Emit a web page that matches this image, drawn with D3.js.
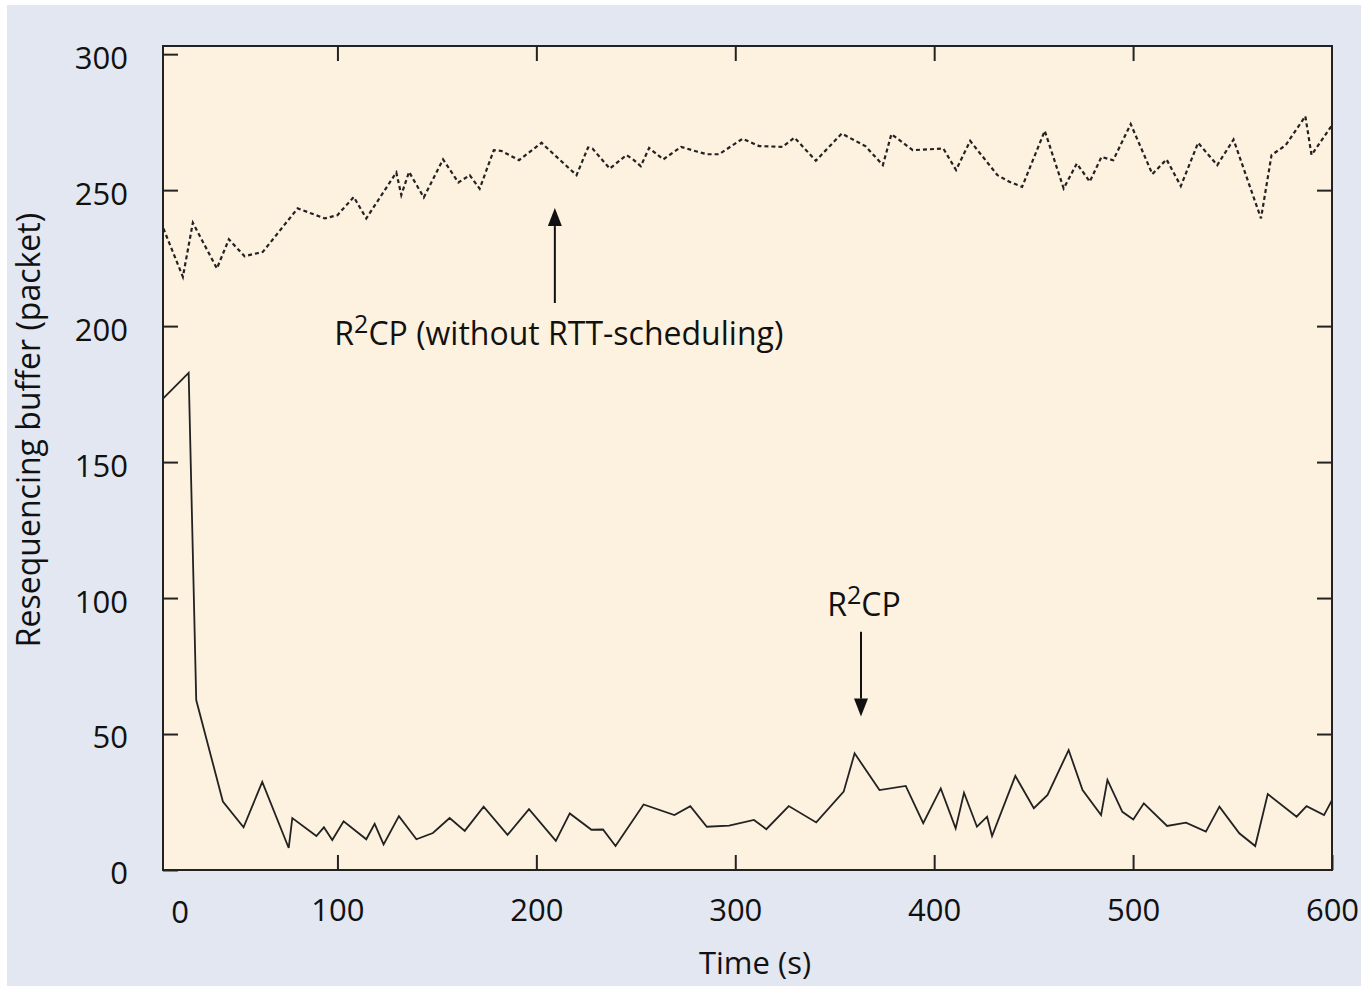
<!DOCTYPE html>
<html>
<head>
<meta charset="utf-8">
<script src="https://cdn.jsdelivr.net/npm/d3@7"></script>
<style>
  body { margin: 0; background: #fff; }
  svg text { font-family: "Open Sans", "Noto Sans", sans-serif; fill: #111; }
</style>
</head>
<body>
<div id="chart"></div>
<script>
// time (s) and buffer size (packets)
var timeDashed = [12.5, 22.3, 27.3, 39.4, 45.4, 53.3, 62.5, 80, 93.6, 100, 108.2, 114.5, 129.6, 132.1, 136,
    143.4, 153.1, 160.8, 166.5, 171.5, 178.6, 182.5, 191.3, 202.6, 209.8, 220.2, 226, 228.2, 236.9, 245.3,
    248.6, 252.5, 256.7, 263.8, 272.8, 281.1, 285.9, 291.8, 303.7, 312, 323.8, 329.8, 340.5, 353.5, 365.4,
    374.2, 378.5, 389.2, 404.6, 411, 418.1, 431.8, 437.8, 444.2, 455.6, 465.1, 471.7, 478.2, 484.1, 490,
    498.8, 509.7, 516.8, 524, 532.7, 542.3, 550.5, 564.3, 569.6, 576.7, 586.6, 589.7, 600];
var bufDashed = [235.9, 218.1, 238, 221.2, 231.9, 225.7, 227.3, 243.3, 239.6, 240.8, 247.5, 239.6, 256.5, 248.2, 256.7,
    247.3, 261.3, 252.8, 255.5, 250.5, 264.7, 264.4, 261, 267.4, 262.5, 255.5, 265.7, 265.3, 257.9, 262.9,
    261.3, 258.8, 265.5, 261.3, 265.9, 264.1, 263.2, 263.2, 268.9, 266.2, 265.9, 269.3, 260.8, 270.8, 266.2,
    259.2, 270.6, 264.7, 265.3, 257.4, 268.1, 255.5, 253.1, 251.2, 271.8, 250.6, 259.8, 253.1, 262.2, 261,
    274.3, 255.9, 261.3, 251.5, 267.4, 259.2, 268.6, 239.6, 262.9, 266.5, 277.2, 262.9, 273.9];

var timeSolid = [12.3, 25.2, 29, 42.4, 52.8, 62.2, 75.5, 77.3, 89.4, 93.2, 97.4, 103.1, 114.5, 118.7, 123.2,
    130.9, 139.7, 148, 156.4, 164, 173.5, 185.5, 196.3, 209.8, 216.8, 227.7, 233.5, 239.8, 253.9, 269.4,
    277.4, 285.7, 296.9, 309.4, 315.6, 326.9, 340.7, 354.5, 360, 372.5, 385.7, 394.5, 403.3, 410.8, 415,
    421.5, 426.6, 429.1, 440.8, 450.1, 457, 467.6, 474.6, 483.9, 487.1, 494.6, 500.1, 505.4, 517.1, 526.6,
    536.6, 543.4, 553.4, 561.4, 567.7, 582.2, 587.2, 596, 600];
var bufSolid = [173.3, 182.8, 62.5, 25.2, 15.7, 32.4, 8.1, 19.1, 12.5, 15.7, 11, 17.9, 11.3, 17, 9.4,
    19.8, 11.3, 13.6, 19.1, 14.4, 23.3, 12.9, 22.4, 10.7, 20.8, 14.8, 14.9, 8.8, 24.1, 20.2,
    23.5, 15.9, 16.3, 18.4, 15, 23.5, 17.5, 28.8, 42.9, 29.4, 30.9, 17.2, 30, 15.3, 28.4,
    15.9, 19.6, 12.5, 34.6, 22.7, 27.6, 44.1, 29.4, 20.2, 33.1, 21.4, 18.6, 24.5, 16.2, 17.4,
    14.1, 23.3, 13.5, 8.8, 27.9, 19.6, 23.5, 20.2, 25.7];

var xTicks = [100, 200, 300, 400, 500, 600];
var yTicks = [0, 50, 100, 150, 200, 250, 300];

// annotation arrows (time, buffer from -> to) and label position
var noteTop = { time: 209.3, from: 208.5, to: 243.4, value: 193 };
var noteBottom = { time: 363.2, from: 87.6, to: 56.4, value: 93.5 };

var width = 1361, height = 986;
var margin = { left: 163, right: 29, top: 46, bottom: 116 };

var svg = d3.select("#chart").append("svg")
    .attr("width", width)
    .attr("height", height);

svg.append("rect")
    .attr("x", 7).attr("y", 5)
    .attr("width", width - 7).attr("height", height - 5)
    .attr("fill", "#e2e7f2");

var x = d3.scaleLinear().domain([12.3, 600]).range([margin.left, width - margin.right]);
var y = d3.scaleLinear().domain([0, 303]).range([height - margin.bottom, margin.top]);

svg.append("rect")
    .attr("x", x.range()[0]).attr("y", y.range()[1])
    .attr("width", x.range()[1] - x.range()[0])
    .attr("height", y.range()[0] - y.range()[1])
    .attr("fill", "#fdf1e0");

var line = d3.line()
    .x(function(d) { return x(d[0]); })
    .y(function(d) { return y(d[1]); });

svg.append("path")
    .datum(d3.zip(timeDashed, bufDashed))
    .attr("d", line)
    .attr("fill", "none")
    .attr("stroke", "#222")
    .attr("stroke-width", 2.2)
    .attr("stroke-dasharray", "4,3");

svg.append("path")
    .datum(d3.zip(timeSolid, bufSolid))
    .attr("d", line)
    .attr("fill", "none")
    .attr("stroke", "#222")
    .attr("stroke-width", 1.8);

// axes, ticks pointing inside on all four sides
function styleAxis(g) {
    g.select(".domain").remove();
    g.selectAll(".tick line").attr("stroke", "#222").attr("stroke-width", 2);
    g.selectAll(".tick text").style("font-size", "31px");
}

svg.append("g")
    .attr("transform", "translate(0," + y.range()[0] + ")")
    .call(d3.axisBottom(x).tickValues(xTicks).tickSize(-15).tickPadding(29))
    .call(styleAxis);

svg.append("g")
    .attr("transform", "translate(0," + y.range()[1] + ")")
    .call(d3.axisTop(x).tickValues(xTicks.slice(0, 5)).tickSize(-15).tickFormat(""))
    .call(styleAxis);

var left = svg.append("g")
    .attr("transform", "translate(" + x.range()[0] + ",0)")
    .call(d3.axisLeft(y).tickValues(yTicks).tickSize(-15).tickPadding(35))
    .call(styleAxis);
left.selectAll(".tick text").attr("dy", "0.45em");

svg.append("g")
    .attr("transform", "translate(" + x.range()[1] + ",0)")
    .call(d3.axisRight(y).tickValues(yTicks.slice(1, 6)).tickSize(-15).tickFormat(""))
    .call(styleAxis);

// the "0" time label sits just inside the left edge in the original
svg.append("text")
    .attr("x", x.range()[0] + 17)
    .attr("y", y.range()[0] + 53)
    .attr("text-anchor", "middle")
    .style("font-size", "31px")
    .text("0");

svg.append("rect")
    .attr("x", x.range()[0]).attr("y", y.range()[1])
    .attr("width", x.range()[1] - x.range()[0])
    .attr("height", y.range()[0] - y.range()[1])
    .attr("fill", "none")
    .attr("stroke", "#222")
    .attr("stroke-width", 2);

// axis titles
svg.append("text")
    .attr("x", 755)
    .attr("y", 974)
    .attr("text-anchor", "middle")
    .style("font-size", "31px")
    .text("Time (s)");

svg.append("text")
    .attr("transform", "translate(40,430) rotate(-90)")
    .attr("text-anchor", "middle")
    .style("font-size", "32px")
    .text("Resequencing buffer (packet)");

// annotations
function arrow(t, v0, v1) {
    var dir = v1 > v0 ? 1 : -1;
    var tipY = y(v1), baseY = tipY + dir * 18;
    svg.append("line")
        .attr("x1", x(t)).attr("x2", x(t))
        .attr("y1", y(v0)).attr("y2", baseY)
        .attr("stroke", "#111").attr("stroke-width", 2);
    svg.append("path")
        .attr("d", "M" + x(t) + "," + tipY + "L" + (x(t) - 7) + "," + baseY + "L" + (x(t) + 7) + "," + baseY + "Z")
        .attr("fill", "#111");
}

function r2cp(tx, ty, suffix) {
    var t = svg.append("text")
        .attr("x", tx).attr("y", ty)
        .attr("text-anchor", "middle")
        .style("font-size", "32px");
    t.append("tspan").text("R");
    t.append("tspan").attr("dy", -12).style("font-size", "25px").text("2");
    t.append("tspan").attr("dy", 12).text("CP" + suffix);
}

arrow(noteTop.time, noteTop.from, noteTop.to);
r2cp(x(noteTop.time) + 4, y(noteTop.value), " (without RTT-scheduling)");

arrow(noteBottom.time, noteBottom.from, noteBottom.to);
r2cp(x(noteBottom.time) + 3, y(noteBottom.value), "");
</script>
</body>
</html>
